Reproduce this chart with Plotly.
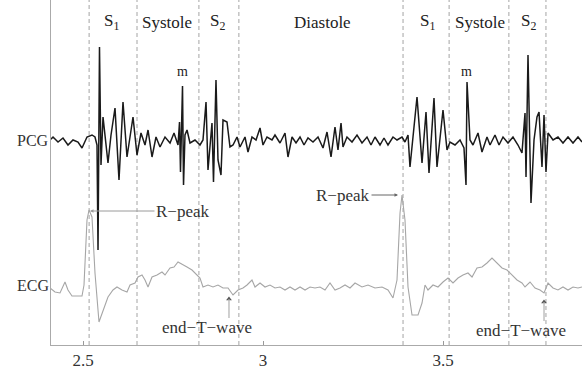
import plotly.graph_objects as go

# ---------------- data (time in s, amplitude in arbitrary units) ----------------
pcg_t = [2.4083, 2.4167, 2.4306, 2.4444, 2.4583, 2.4722, 2.4861, 2.4972, 2.5111, 2.5250, 2.5333,
         2.5389, 2.5417, 2.5458, 2.5500, 2.5556, 2.5694, 2.5778, 2.5889, 2.6000, 2.6111, 2.6222,
         2.6389, 2.6500, 2.6611, 2.6722, 2.6806, 2.6917, 2.7028, 2.7139, 2.7278, 2.7417, 2.7528,
         2.7639, 2.7681, 2.7708, 2.7764, 2.7792, 2.7833, 2.7889, 2.7972, 2.8111, 2.8250, 2.8333,
         2.8417, 2.8472, 2.8583, 2.8625, 2.8694, 2.8750, 2.8833, 2.8889, 2.9000, 2.9083, 2.9167,
         2.9278, 2.9361, 2.9500, 2.9583, 2.9694, 2.9806, 2.9917, 3.0000, 3.0111, 3.0250, 3.0333,
         3.0472, 3.0611, 3.0694, 3.0806, 3.0917, 3.1028, 3.1139, 3.1250, 3.1389, 3.1528, 3.1667,
         3.1778, 3.1889, 3.2000, 3.2083, 3.2167, 3.2222, 3.2333, 3.2472, 3.2611, 3.2750, 3.2889,
         3.3000, 3.3111, 3.3250, 3.3361, 3.3472, 3.3611, 3.3722, 3.3861, 3.3944, 3.4028, 3.4083,
         3.4278, 3.4417, 3.4528, 3.4611, 3.4750, 3.4833, 3.5000, 3.5111, 3.5194, 3.5333, 3.5472,
         3.5583, 3.5639, 3.5667, 3.5750, 3.5833, 3.5972, 3.6083, 3.6222, 3.6306, 3.6444, 3.6556,
         3.6667, 3.6806, 3.6944, 3.7083, 3.7194, 3.7278, 3.7306, 3.7361, 3.7444, 3.7528, 3.7611,
         3.7667, 3.7750, 3.7806, 3.7861, 3.7917, 3.8056, 3.8194, 3.8333, 3.8472, 3.8611, 3.8750,
         3.8861]
pcg_v = [0.00, 0.03, -0.02, 0.02, -0.05, 0.00, -0.02, -0.08, 0.03, 0.05, 0.03,
         -0.05, -1.10, 0.93, -0.25, 0.23, -0.23, 0.05, 0.32, -0.40, 0.38, -0.17,
         0.23, -0.15, 0.07, -0.05, 0.10, -0.17, 0.03, -0.07, 0.03, -0.03, 0.07,
         -0.05, 0.18, -0.32, 0.54, -0.45, 0.05, 0.10, -0.03, 0.00, -0.05, 0.00,
         0.38, -0.30, 0.17, -0.42, 0.60, -0.20, -0.35, 0.20, 0.18, -0.07, -0.05,
         0.03, -0.07, 0.03, -0.12, 0.03, 0.00, 0.12, -0.05, 0.03, 0.00, 0.05,
         -0.03, 0.07, -0.17, 0.03, -0.03, 0.03, -0.05, 0.02, -0.02, 0.03, -0.08,
         0.08, -0.17, 0.13, -0.10, 0.17, -0.07, 0.03, -0.02, 0.05, -0.03, 0.03,
         -0.05, 0.03, -0.05, 0.02, -0.05, 0.03, 0.00, 0.03, -0.02, 0.05, -0.27,
         0.43, -0.23, 0.28, -0.33, 0.42, -0.27, 0.30, -0.10, -0.02, -0.05, 0.00,
         -0.08, -0.45, 0.58, 0.00, -0.05, 0.07, -0.12, 0.03, -0.05, 0.05, -0.05,
         0.03, -0.03, 0.03, -0.05, -0.13, 0.27, -0.37, 0.85, -0.63, 0.00, 0.23,
         0.28, -0.27, 0.25, -0.32, 0.07, 0.00, 0.03, -0.03, 0.03, -0.03, 0.03,
         -0.02]

ecg_t = [2.4083, 2.4222, 2.4361, 2.4500, 2.4583, 2.4694, 2.4972, 2.5028, 2.5111, 2.5167, 2.5250,
         2.5333, 2.5444, 2.5556, 2.5694, 2.5833, 2.5944, 2.6083, 2.6222, 2.6306, 2.6444, 2.6528,
         2.6639, 2.6722, 2.6806, 2.6917, 2.7056, 2.7194, 2.7278, 2.7417, 2.7528, 2.7639, 2.7750,
         2.7889, 2.8028, 2.8167, 2.8250, 2.8333, 2.8472, 2.8611, 2.8750, 2.8889, 2.9028, 2.9167,
         2.9306, 2.9444, 2.9556, 2.9694, 2.9778, 2.9917, 3.0056, 3.0194, 3.0333, 3.0472, 3.0611,
         3.0750, 3.0889, 3.1028, 3.1167, 3.1306, 3.1444, 3.1583, 3.1722, 3.1861, 3.2000, 3.2139,
         3.2278, 3.2417, 3.2556, 3.2750, 3.2917, 3.3111, 3.3306, 3.3472, 3.3611, 3.3722, 3.3806,
         3.3861, 3.3944, 3.4028, 3.4139, 3.4306, 3.4417, 3.4500, 3.4583, 3.4722, 3.4861, 3.5000,
         3.5139, 3.5278, 3.5417, 3.5556, 3.5694, 3.5806, 3.5944, 3.6083, 3.6222, 3.6361, 3.6500,
         3.6639, 3.6778, 3.6917, 3.7056, 3.7194, 3.7278, 3.7417, 3.7556, 3.7694, 3.7806, 3.7917,
         3.8056, 3.8194, 3.8333, 3.8472, 3.8611, 3.8750, 3.8861]
ecg_v = [0.00, -0.04, -0.05, 0.06, -0.02, -0.08, -0.08, 0.03, 0.68, 0.78, 0.71,
         0.15, -0.34, -0.22, -0.09, -0.02, 0.01, -0.02, -0.04, 0.03, 0.05, 0.11,
         0.13, 0.08, 0.01, 0.11, 0.13, 0.16, 0.13, 0.20, 0.21, 0.26, 0.24,
         0.21, 0.18, 0.13, 0.10, 0.01, 0.03, 0.01, 0.03, 0.00, 0.00, -0.07,
         -0.02, 0.00, 0.03, 0.08, 0.01, 0.05, 0.01, 0.03, 0.00, 0.01, -0.02,
         0.01, -0.02, 0.01, -0.02, 0.01, 0.00, 0.01, -0.02, 0.05, -0.02, 0.00,
         0.03, 0.00, 0.05, 0.01, 0.03, 0.00, 0.01, -0.02, -0.10, 0.08, 0.75,
         0.93, 0.68, 0.01, -0.27, -0.27, -0.15, 0.03, -0.02, 0.03, 0.01, 0.06,
         0.10, 0.05, 0.10, 0.13, 0.15, 0.11, 0.20, 0.21, 0.25, 0.30, 0.25,
         0.20, 0.18, 0.13, 0.08, 0.05, 0.01, 0.06, 0.00, -0.02, -0.05, 0.05,
         0.00, -0.02, 0.01, -0.02, 0.01, 0.00, 0.01]

boundaries = [2.517, 2.650, 2.822, 2.933, 3.389, 3.517, 3.683, 3.786]
phase_labels = ["S<sub>1</sub>", "Systole", "S<sub>2</sub>", "Diastole",
                "S<sub>1</sub>", "Systole", "S<sub>2</sub>"]
phase_label_t = [2.5805, 2.7333, 2.8722, 3.1639, 3.4583, 3.6028, 3.7361]
m_t = [2.775, 3.564]
r_peak_t = [2.5194, 3.3750]
r_peak_v = [0.77, 0.93]
r_label_t = [2.7778, 3.2222]
end_t_wave_t = [2.9055, 3.7806]
end_t_wave_v = [-0.09, -0.12]
end_t_label_t = [2.8444, 3.7167]
tick_vals = [2.5, 3, 3.5]
tick_text = ["2.5", "3", "3.5"]

PCG_OFF = 2.05
ECG_OFF = 0.57
SERIF = "Liberation Serif, Times New Roman, serif"

fig = go.Figure()
fig.add_trace(go.Scatter(x=ecg_t, y=[v + ECG_OFF for v in ecg_v], mode="lines",
                         line=dict(color="#a6a6a6", width=1.1), hoverinfo="skip"))
fig.add_trace(go.Scatter(x=pcg_t, y=[v + PCG_OFF for v in pcg_v], mode="lines",
                         line=dict(color="#1a1a1a", width=1.5), hoverinfo="skip"))

for b in boundaries:
    fig.add_shape(type="line", xref="x", yref="paper", x0=b, x1=b, y0=0, y1=1,
                  line=dict(color="#9a9a9a", width=0.9, dash="4px,3px"), layer="below")

# end-T-wave markers: short vertical arrows (line + small dot head)
for t, v in zip(end_t_wave_t, end_t_wave_v):
    fig.add_shape(type="line", xref="x", yref="y", x0=t, x1=t,
                  y0=v + ECG_OFF - 0.21, y1=v + ECG_OFF - 0.02,
                  line=dict(color="#b0b0b0", width=1.2))
fig.add_trace(go.Scatter(x=end_t_wave_t, y=[v + ECG_OFF - 0.02 for v in end_t_wave_v],
                         mode="markers", marker=dict(symbol="triangle-up", size=5, color="#555"),
                         hoverinfo="skip"))

ann = []
for lab, t in zip(phase_labels, phase_label_t):
    ann.append(dict(x=t, y=3.23, xref="x", yref="y", text=lab, showarrow=False,
                    font=dict(family=SERIF, size=17, color="#222")))
for t in m_t:
    ann.append(dict(x=t, y=2.74, xref="x", yref="y", text="m", showarrow=False,
                    font=dict(family=SERIF, size=14, color="#222")))

# R-peak annotations
for t, v, lt, col in zip(r_peak_t, r_peak_v, r_label_t, ["#9a9a9a", "#666"]):
    ann.append(dict(x=t, y=v + ECG_OFF, xref="x", yref="y", ax=lt, ay=v + ECG_OFF,
                    axref="x", ayref="y", text="R\u2212peak", showarrow=True, arrowhead=2,
                    arrowsize=0.7, arrowwidth=1, arrowcolor=col,
                    font=dict(family=SERIF, size=17, color="#333")))

# end-T-wave labels
for lt, v in zip(end_t_label_t, end_t_wave_v):
    ann.append(dict(x=lt, y=v + ECG_OFF - 0.30, xref="x", yref="y", text="end\u2212T\u2212wave",
                    showarrow=False, font=dict(family=SERIF, size=17, color="#333")))

# signal names
ann.append(dict(x=0, y=PCG_OFF, xref="paper", yref="y", xanchor="right", text="PCG",
                showarrow=False, font=dict(family=SERIF, size=16, color="#333")))
ann.append(dict(x=0, y=ECG_OFF + 0.03, xref="paper", yref="y", xanchor="right", text="ECG",
                showarrow=False, font=dict(family=SERIF, size=16, color="#333")))

fig.update_layout(
    width=582, height=378,
    margin=dict(l=51, r=0, t=0, b=33),
    paper_bgcolor="white", plot_bgcolor="white",
    showlegend=False,
    annotations=ann,
    xaxis=dict(range=[2.4111, 3.8861], tickvals=tick_vals, ticktext=tick_text,
               ticks="inside", ticklen=4, tickcolor="#999", showgrid=False, zeroline=False,
               showline=True, linecolor="#aaa", linewidth=1,
               tickfont=dict(family=SERIF, size=17, color="#333")),
    yaxis=dict(range=[0, 3.45], showticklabels=False, ticks="", showgrid=False,
               zeroline=False, showline=True, linecolor="#aaa", linewidth=1),
)

fig.write_html("out.html")
